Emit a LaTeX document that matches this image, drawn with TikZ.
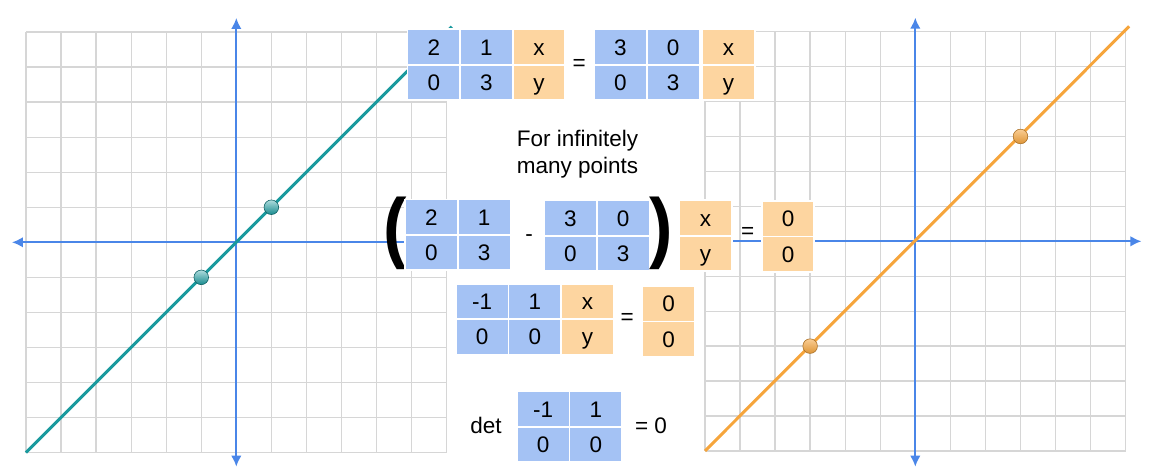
\documentclass[tikz,border=0pt]{standalone}
\usepackage{fontspec}
\setmainfont{Liberation Sans}
\usetikzlibrary{positioning,arrows.meta}
\definecolor{cellblue}{HTML}{A4C2F4}
\definecolor{cellorange}{HTML}{FDD5A0}
\definecolor{axisblue}{HTML}{4A86E8}
\definecolor{gridgray}{HTML}{D6D6D6}
\definecolor{lineteal}{HTML}{1A9A9E}
\definecolor{lineorange}{HTML}{F6A53C}
\tikzset{
  cell/.style={draw=white, line width=1.8pt, minimum width=52.6pt, minimum height=35.4pt,
    inner sep=0pt, outer sep=0pt, text height=16pt, text depth=0pt,
    font=\fontsize{22.5}{27}\selectfont},
  bluecell/.style={cell, fill=cellblue},
  orangecell/.style={cell, fill=cellorange},
  txt/.style={font=\fontsize{22.5}{27}\selectfont, inner sep=0pt},
  paren/.style={font=\fontsize{78}{80}\selectfont\bfseries, inner sep=0pt, xscale=0.9},
  gridline/.style={gridgray, line width=1.3pt},
  axis/.style={axisblue, line width=1.8pt, >={Latex[length=11pt,width=10.5pt]}, <->},
  tealpoint/.style={top color=lineteal!35!white, bottom color=lineteal!90!black, draw=lineteal!65!black, line width=0.6pt},
  orangepoint/.style={top color=lineorange!55!white, bottom color=lineorange!90!black, draw=lineorange!70!black, line width=0.6pt},
}
\begin{document}
\begin{tikzpicture}[x=1pt,y=-1pt]
\useasboundingbox (0,0) rectangle (1149,474);

% left graph
\begin{scope}[shift={(236.3,242.3)}, x=35.05pt, y=35.05pt]
  \draw[gridline, step=1] (-6,-6) grid (6,6);
  \draw[axis] (-6.4,0) -- (6.4,0);
  \draw[axis] (0,-6.4) -- (0,6.4);
  \draw[lineteal, line width=3pt] (-6,-6) -- (6.15,6.15);
  \draw[tealpoint] (1,1) circle (7.3pt);
  \draw[tealpoint] (-1,-1) circle (7.3pt);
\end{scope}

% right graph
\begin{scope}[shift={(915.3,241.3)}, x=35.06pt, y=34.94pt]
  \draw[gridline, step=1] (-6,-6) grid (6,6);
  \draw[axis] (-6.4,0) -- (6.45,0);
  \draw[axis] (0,-6.45) -- (0,6.4);
  \draw[lineorange, line width=3pt] (-6,-6) -- (6.1,6.15);
  \draw[orangepoint] (3,3) circle (7.3pt);
  \draw[orangepoint] (-3,-3) circle (7.3pt);
\end{scope}

% top equation
\node[bluecell] (a11) at (433.8,47) {2};
\node[bluecell, right=0pt of a11] (a12) {1};
\node[orangecell, right=0pt of a12] (ax) {x};
\node[bluecell, below=0pt of a11] (a21) {0};
\node[bluecell, right=0pt of a21] (a22) {3};
\node[orangecell, right=0pt of a22] (ay) {y};
\node[txt] (eqtop) at (579.3,65) {=};
\node[bluecell] (b11) at (620.5,47) {3};
\node[bluecell, right=0pt of b11] (b12) {0};
\node[bluecell, below=0pt of b11] (b21) {0};
\node[bluecell, right=0pt of b21] (b22) {3};
\node[orangecell, right=2.7pt of b12] (bx) {x};
\node[orangecell, right=2.7pt of b22] (by) {y};

\node[txt, align=left] (note) at (577.5,154) {For infinitely\\many points};

% middle equation
\node[paren] (lpar) at (395,233.4) {(};
\node[bluecell] (c11) at (431.5,217.2) {2};
\node[bluecell, right=0pt of c11] (c12) {1};
\node[bluecell, below=0pt of c11] (c21) {0};
\node[bluecell, right=0pt of c21] (c22) {3};
\node[txt] (minus) at (529,238) {-};
\node[bluecell] (d11) at (570.5,218) {3};
\node[bluecell, right=0pt of d11] (d12) {0};
\node[bluecell, below=0pt of d11] (d21) {0};
\node[bluecell, right=0pt of d21] (d22) {3};
\node[paren] (rpar) at (661,233.4) {)};
\node[orangecell] (cx) at (705.5,218) {x};
\node[orangecell, below=0pt of cx] (cy) {y};
\node[txt] (eqmid) at (747.7,233) {=};
\node[orangecell] (z1) at (788,218.8) {0};
\node[orangecell, below=0pt of z1] (z2) {0};

% lower equation
\node[bluecell] (e11) at (482.2,301.3) {-1};
\node[bluecell, right=0pt of e11] (e12) {1};
\node[orangecell, right=0pt of e12] (ex) {x};
\node[bluecell, below=0pt of e11] (e21) {0};
\node[bluecell, right=0pt of e21] (e22) {0};
\node[orangecell, right=0pt of e22] (ey) {y};
\node[txt] (eqlow) at (627.3,319) {=};
\node[orangecell] (f1) at (668.7,303.7) {0};
\node[orangecell, below=0pt of f1] (f2) {0};

% determinant
\node[txt] (det) at (486,425.4) {det};
\node[bluecell] (g11) at (543.2,409) {-1};
\node[bluecell, right=0pt of g11] (g12) {1};
\node[bluecell, below=0pt of g11] (g21) {0};
\node[bluecell, right=0pt of g21] (g22) {0};
\node[txt] (eqdet) at (651,425.4) {= 0};
\end{tikzpicture}
\end{document}
